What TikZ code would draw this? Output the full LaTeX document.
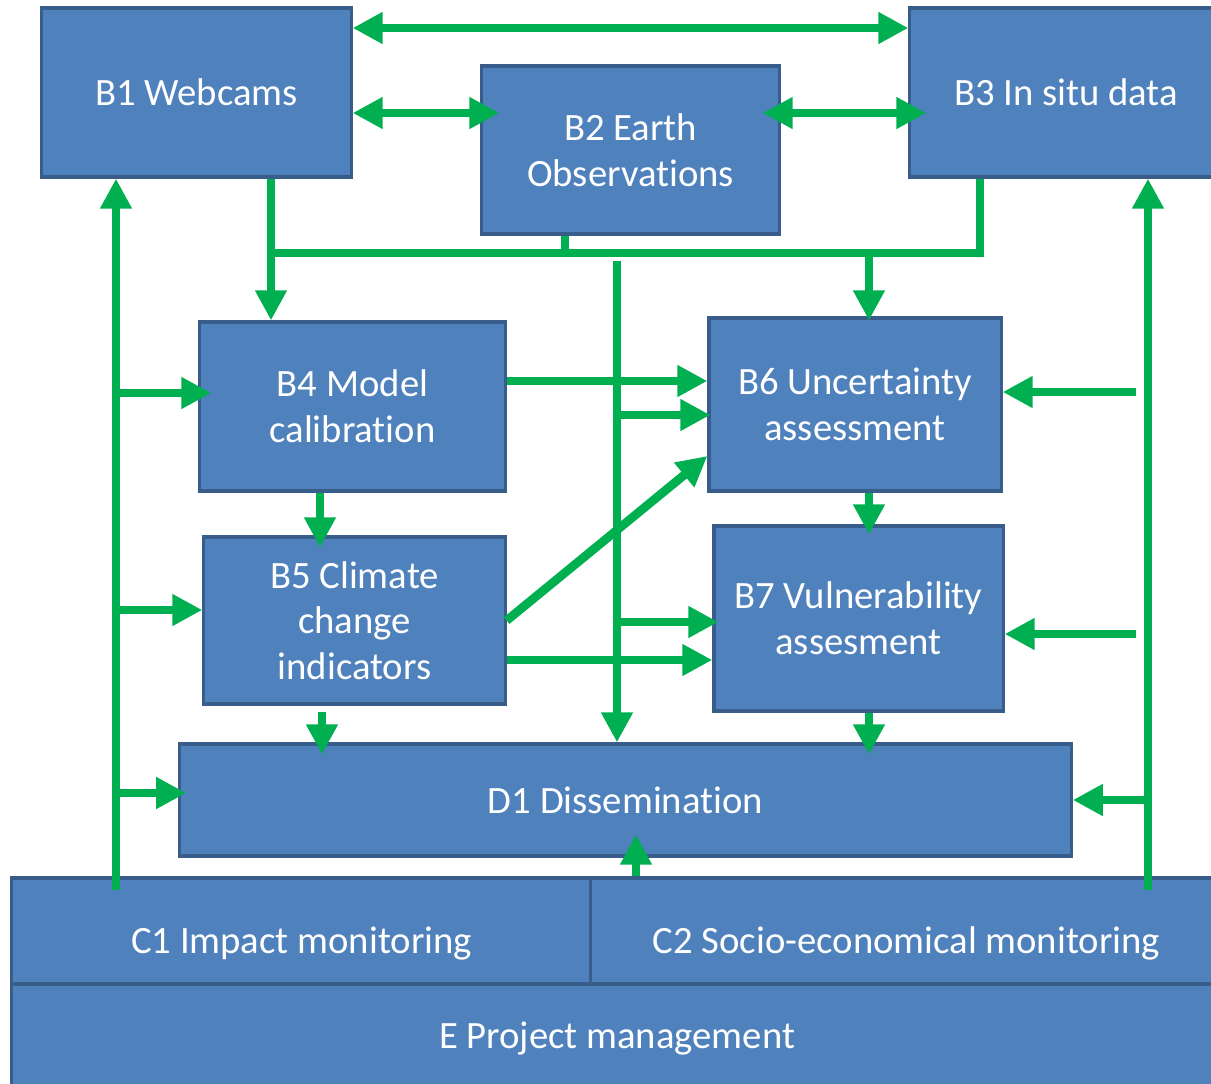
\documentclass[tikz,border=0pt]{standalone}
\usepackage{fontspec}
\setmainfont{Carlito}[Ligatures=NoCommon]
\usetikzlibrary{arrows.meta}
\definecolor{boxblue}{HTML}{4F81BD}
\definecolor{boxline}{HTML}{385D8A}
\definecolor{flowgreen}{HTML}{00B050}

\begin{document}
\begin{tikzpicture}[x=0.01cm,y=-0.01cm,
    box/.style={draw=boxline, fill=boxblue, line width=0.9pt, text=white, align=center, inner sep=0pt, font=\fontsize{11}{13}\selectfont},
    lowbox/.style={box, text height=0.52cm, text depth=0.08cm},
    bus/.style={draw=flowgreen, line width=2.5pt},
    flow/.style={bus, -{Triangle[length=0.3cm,width=0.3cm]}},
    biflow/.style={bus, {Triangle[length=0.3cm,width=0.3cm]}-{Triangle[length=0.3cm,width=0.3cm]}}]
        \useasboundingbox (0,0) rectangle (1211,1084);
        \clip (0,0) rectangle (1211,1084);
        \node[box, minimum width=3.09cm, minimum height=1.69cm] (b1) at (196.5,92.5) {B1 Webcams};
        \node[box, minimum width=2.97cm, minimum height=1.68cm] (b2) at (630.5,150) {B2 Earth\\Observations};
        \node[box, minimum width=3.12cm, minimum height=1.69cm] (b3) at (1066,92.5) {B3 In situ data};
        \node[box, minimum width=3.05cm, minimum height=1.69cm] (b4) at (352.5,406.5) {B4 Model\\calibration};
        \node[box, minimum width=3.01cm, minimum height=1.67cm] (b5) at (354.5,620.5) {B5 Climate\\change\\indicators};
        \node[box, minimum width=2.92cm, minimum height=1.73cm] (b6) at (855,404.5) {B6 Uncertainty\\assessment};
        \node[box, minimum width=2.89cm, minimum height=1.85cm] (b7) at (858.5,618.5) {B7 Vulnerability\\assesment};
        \node[box, minimum width=8.91cm, minimum height=1.12cm] (d1) at (625.5,800) {D1 Dissemination};
        \node[lowbox, minimum width=5.79cm, minimum height=1.06cm] (c1) at (301.5,931) {C1 Impact monitoring};
        \node[lowbox, minimum width=6.31cm, minimum height=1.06cm] (c2) at (906.5,931) {C2 Socio-economical monitoring};
        \node[box, minimum width=12.10cm, minimum height=1.10cm] (e) at (617,1039) {E Project management};

        \coordinate (busL) at (271,253);
        \coordinate (busM) at (565,253);
        \coordinate (busR) at (980,253);
        \coordinate (busB6) at (869,253);
        \coordinate (midtop) at (617,261);
        \coordinate (m6) at (617,415);
        \coordinate (m7) at (617,622);
        \coordinate (lbot) at (116,890);
        \coordinate (rbot) at (1148,890);
        \coordinate (r6) at (1136,392);
        \coordinate (r7) at (1136,634);

        \draw[biflow] (b1.east |- 0,28) -- (b3.west |- 0,28);
        \draw[biflow, shorten >=-0.19cm] (b1.east |- 0,113) -- (b2.west |- 0,113);
        \draw[biflow, shorten <=-0.18cm, shorten >=-0.18cm] (b2.east |- 0,113) -- (b3.west |- 0,113);

        \draw[flow] (b1.south -| busL) -- (b4.north -| busL);
        \draw[bus] (busL) -- (busR) -- (b3.south -| busR);
        \draw[bus] (b2.south -| busM) -- (busM);
        \draw[flow, shorten >=-0.04cm] (busB6) -- (b6.north -| busB6);

        \draw[flow] (midtop) -- (d1.north -| midtop);
        \draw[flow, shorten >=-0.03cm] (m6) -- (b6.west |- m6);
        \draw[flow, shorten >=-0.06cm] (m7) -- (b7.west |- m7);

        \draw[flow] (b4.east |- 0,381) -- (b6.west |- 0,381);
        \draw[flow] (b5.east |- 0,660) -- (b7.west |- 0,660);
        \draw[flow] (b5.east) -- (b6.west |- 0,456);
        \draw[flow, shorten >=-0.12cm] (b4.south -| 320,0) -- (b5.north -| 320,0);
        \draw[flow, shorten <=0.06cm, shorten >=-0.12cm] (b5.south -| 322,0) -- (d1.north -| 322,0);
        \draw[flow, shorten >=-0.1cm] (b6.south -| 869,0) -- (b7.north -| 869,0);
        \draw[flow, shorten >=-0.12cm] (b7.south -| 869,0) -- (d1.north -| 869,0);

        \draw[flow] (lbot) -- (b1.south -| lbot);
        \draw[flow, shorten >=-0.13cm] (lbot |- 0,393) -- (b4.west |- 0,393);
        \draw[flow] (lbot |- 0,610) -- (b5.west |- 0,610);
        \draw[flow, shorten >=-0.08cm] (lbot |- 0,793) -- (d1.west |- 0,793);

        \draw[flow] (rbot) -- (b3.south -| rbot);
        \draw[flow] (rbot |- 0,800) -- (d1.east |- 0,800);
        \draw[flow] (r6) -- (b6.east |- r6);
        \draw[flow] (r7) -- (b7.east |- r7);

        \draw[flow, shorten >=-0.23cm] (c2.north -| 636,0) -- (d1.south -| 636,0);
\end{tikzpicture}
\end{document}
